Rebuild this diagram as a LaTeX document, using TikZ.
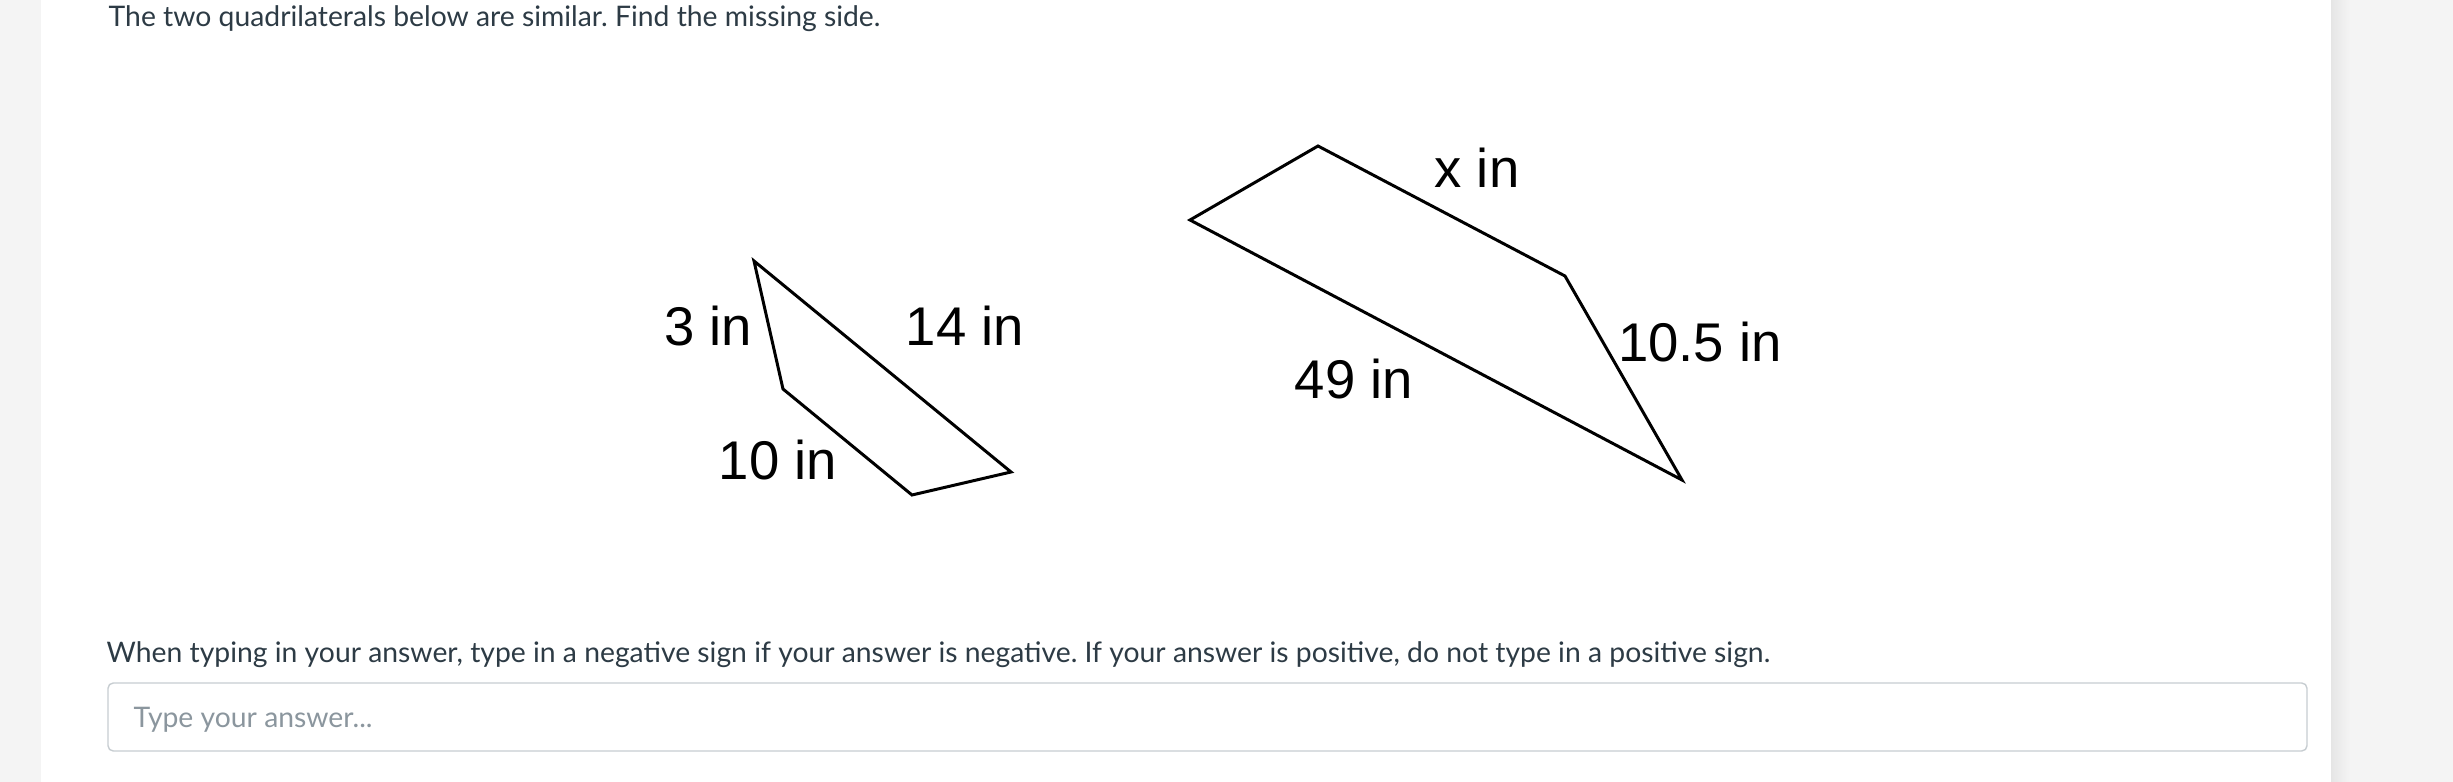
\documentclass[tikz,border=0pt]{standalone}
\usepackage{fontspec}
\setmainfont{Lato}
\newfontfamily\figfont{Liberation Sans}
\usetikzlibrary{positioning}
\definecolor{textgray}{HTML}{2D3B45}
\definecolor{hintgray}{HTML}{8B969E}
\definecolor{boxgray}{HTML}{C7CDD1}
\definecolor{pagegray}{HTML}{F4F4F4}
\frenchspacing
\tikzset{
  side/.style={
    font=\figfont\fontsize{15.5}{18}\selectfont,
    inner sep=0pt,
  },
  prompt/.style={
    anchor=base west,
    font=\fontsize{8.05}{10}\selectfont,
    text=textgray,
    inner sep=0pt,
  },
  quad/.style={
    draw, line width=0.85pt, line join=miter
  }
}

\begin{document}
\begin{tikzpicture}[x=0.01cm, y=-0.01cm]

% Page
\fill[pagegray] (0,0) rectangle (2453,782);
\fill[white] (41,0) rectangle (2331,782);
\shade[left color=black!10, right color=pagegray] (2331,0) rectangle (2350,782);
\useasboundingbox (0,0) rectangle (2453,782);

% Question
\node[prompt] (question) at (108,27) {The two quadrilaterals below are similar. Find the missing side.};

% Small quadrilateral
\coordinate (a1) at (754,261);
\coordinate (b1) at (783,389);
\coordinate (c1) at (912,495);
\coordinate (d1) at (1011,472);
\draw[quad] (a1) -- (b1) -- (c1) -- (d1) -- cycle;
\node[side] (three) at (708,326) {3 in};
\node[side] (fourteen) at (965,326) {14 in};
\node[side] (ten) at (778,460) {10 in};

% Large quadrilateral
\coordinate (a2) at (1318,146);
\coordinate (b2) at (1190,220);
\coordinate (c2) at (1682,480);
\coordinate (d2) at (1565,276);
\draw[quad] (a2) -- (b2) -- (c2) -- (d2) -- cycle;
\node[side] (xside) at (1477,168) {x in};
\node[side] (tenhalf) at (1700,342) {10.5 in};
\node[side] (fortynine) at (1354,379) {49 in};

% Answer
\node[prompt] (hint) at (106,662) {When typing in your answer, type in a negative sign if your answer is negative. If your answer is positive, do not type in a positive sign.};
\draw[boxgray, rounded corners=1.5pt] (108,683) rectangle (2307,751);
\node[prompt, text=hintgray] (answer) at (133,727) {Type your answer...};

\end{tikzpicture}
\end{document}
